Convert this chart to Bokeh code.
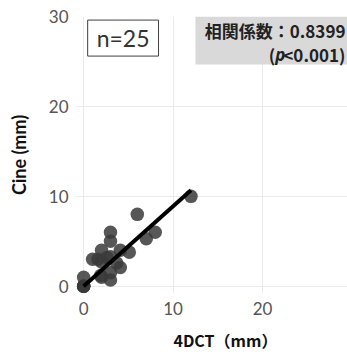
from bokeh.plotting import figure
from bokeh.models import Range1d, FixedTicker, Label, BoxAnnotation, ColumnDataSource, Title
from bokeh.embed import file_html
from bokeh.resources import INLINE

# data
fourdct = [0, 0, 0, 0, 0, 1, 1.6, 2, 2, 2, 2.6, 3, 3, 3, 3, 3, 3.7, 4.1, 4.1, 5.1, 6, 7, 8, 12, 1.9]
cine    = [0, 0, 0, 0, 1, 3, 3, 4, 2.7, 1, 3.2, 6, 5, 1.5, 0.7, 3.3, 2.6, 4, 2.1, 3.8, 8, 5.3, 6, 10, 1.2]
fit_slope = 0.89
fit_intercept = 0.0
n_label = "n=25"
corr_label = "相関係数：0.8399"
ticks = [0, 10, 20, 30]

p = figure(frame_width=271, frame_height=277, output_backend="svg", toolbar_location=None,
           x_range=Range1d(-0.8, 29.5), y_range=Range1d(-0.8, 30),
           min_border_left=76, min_border_right=0, min_border_top=16, min_border_bottom=5)
p.outline_line_color = None
p.background_fill_color = "white"

for ax in (p.xaxis[0], p.yaxis[0]):
    ax.ticker = FixedTicker(ticks=ticks)
    ax.axis_line_color = None
    ax.major_tick_line_color = None
    ax.minor_tick_line_color = None
    ax.major_tick_out = 0
    ax.major_label_text_font = "Lato"
    ax.major_label_text_font_size = "17px"
    ax.major_label_text_color = "#555555"
    ax.major_label_standoff = 8

p.yaxis.axis_label = "Cine (mm)"
p.yaxis.axis_label_text_font = "Lato"
p.yaxis.axis_label_text_font_style = "bold"
p.yaxis.axis_label_text_font_size = "18px"
p.yaxis.axis_label_text_color = "#111111"
p.yaxis.axis_label_standoff = 16

p.xgrid.grid_line_color = "#ebebeb"
p.ygrid.grid_line_color = "#ebebeb"
p.xgrid.ticker = FixedTicker(ticks=ticks)
p.ygrid.ticker = FixedTicker(ticks=ticks)

src = ColumnDataSource(dict(x=fourdct, y=cine))
p.scatter("x", "y", source=src, size=13.5, fill_color="#3a3a3a", fill_alpha=0.85, line_color=None)

xs = [min(fourdct), max(fourdct)]
ys = [fit_slope * v + fit_intercept for v in xs]
p.line(xs, ys, line_color="black", line_width=4)

p.add_layout(Label(x=4.41, y=27.6, text=n_label, text_align="center", text_baseline="middle",
                   text_font="Lato", text_font_size="23px", text_color="#333333",
                   border_line_color="#404040", border_line_width=1,
                   background_fill_color="white", padding=(9, 4)))

p.add_layout(BoxAnnotation(left=12.5, bottom=24.67, fill_color="#d9d9d9", fill_alpha=1.0,
                           line_color=None))

for lbl in [
    Label(x=29.27, y=28.4, text=corr_label, text_align="right", text_baseline="middle",
          text_font="Noto Sans CJK JP", text_font_style="bold", text_font_size="17px",
          text_color="#222222"),
    Label(x=29.27, y=25.8, text="<0.001)", text_align="right", text_baseline="middle",
          text_font="Noto Sans CJK JP", text_font_style="bold", text_font_size="17px",
          text_color="#222222"),
    Label(x=22.55, y=25.8, text="p", text_align="right", text_baseline="middle",
          text_font="Noto Sans", text_font_style="bold italic", text_font_size="17px",
          text_color="#222222"),
    Label(x=21.4, y=25.8, text="(", text_align="right", text_baseline="middle",
          text_font="Noto Sans CJK JP", text_font_style="bold", text_font_size="17px",
          text_color="#222222"),
]:
    p.add_layout(lbl)

p.add_layout(Title(text="4DCT（mm）", align="left", offset=97,
                   text_font="Noto Sans CJK JP", text_font_style="bold", text_font_size="16px",
                   text_color="#111111", standoff=17), "below")

open("out.html", "w").write(file_html(p, INLINE))
